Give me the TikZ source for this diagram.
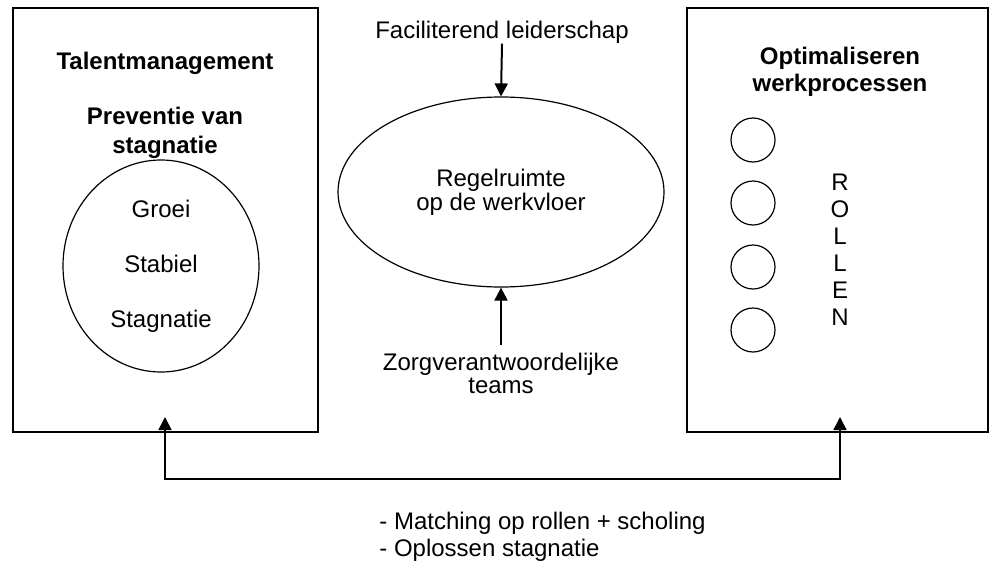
\documentclass[tikz,border=0pt]{standalone}
\usepackage{fontspec}
\setmainfont{Liberation Sans}
\usetikzlibrary{
    shapes.geometric,
    arrows.meta,
    positioning,
    calc
}
\tikzstyle{arrow} = [line width=1pt,-{Triangle[length=6.5pt,width=6.5pt]}]
\tikzstyle{dubbelpijl} = [line width=0.8pt,{Triangle[length=6.5pt,width=6.5pt]}-{Triangle[length=6.5pt,width=6.5pt]}]

\begin{document}
\begin{tikzpicture}[
        x=0.5pt,
        y=-0.5pt,
        line join=miter,
        every node/.style={font=\fontsize{12}{13.8}\selectfont,inner sep=0pt},
        kader/.style={draw,line width=0.8pt},
        ovaal/.style={draw,ellipse,line width=0.6pt,inner sep=0pt,align=center},
        bol/.style={draw,circle,line width=0.6pt,minimum size=22pt},
        titel/.style={font=\bfseries\fontsize{12}{14.5}\selectfont,align=center}
    ]

        \useasboundingbox (0,0) rectangle (989,562);

        % de twee kaders
        \node[kader,minimum width=152.5pt,minimum height=212pt] (links) at (165.5,220) {};
        \node[kader,minimum width=150.5pt,minimum height=212pt] (rechts) at (837.5,220) {};

        % linker kader: talentmanagement
        \node[titel] (talent) at (165,63) {Talentmanagement};
        \node[titel] (preventie) at (165,132.5) {Preventie van\\stagnatie};
        \node[ovaal,minimum width=98pt,minimum height=106pt,
            font=\fontsize{12}{27.5}\selectfont] (fasen) at (161,266)
            {Groei\\Stabiel\\Stagnatie};

        % middelste ellips met de twee invloeden
        \node[ovaal,minimum width=163pt,minimum height=95pt,
            font=\fontsize{12}{12}\selectfont] (regel) at (501,192)
            {Regelruimte\\op de werkvloer};
        \node (facil) at (502,32) {Faciliterend leiderschap};
        \node[align=center,font=\fontsize{12}{11.5}\selectfont] (zorg) at (501,373.5)
            {Zorgverantwoordelijke\\teams};

        \draw[arrow] (facil.south) -- (regel.north);
        \draw[arrow] ([yshift=4pt]zorg.north) -- (regel.south);

        % rechter kader: werkprocessen
        \node[titel,font=\bfseries\fontsize{12}{13.5}\selectfont] (optim) at (840,71.5)
            {Optimaliseren\\werkprocessen};
        \node[bol] (rol1) at (753,140) {};
        \node[bol] (rol2) at (753,203) {};
        \node[bol] (rol3) at (753,267) {};
        \node[bol] (rol4) at (753,330) {};
        \node[align=center,font=\fontsize{12}{13.5}\selectfont] (rollen) at (840,249.5)
            {R\\O\\L\\L\\E\\N};

        % verbinding onder de kaders
        \coordinate (lpunt) at (165,417);
        \coordinate (rpunt) at (840,417);
        \coordinate (lhoek) at (165,479);
        \coordinate (rhoek) at (840,479);
        \draw[dubbelpijl] (lpunt) -- (lhoek) -- (rhoek) -- (rpunt);

        \node[align=left,anchor=west,font=\fontsize{12}{13.5}\selectfont] (acties) at (379,536.5)
            {- Matching op rollen + scholing\\- Oplossen stagnatie};

    \end{tikzpicture}
\end{document}
